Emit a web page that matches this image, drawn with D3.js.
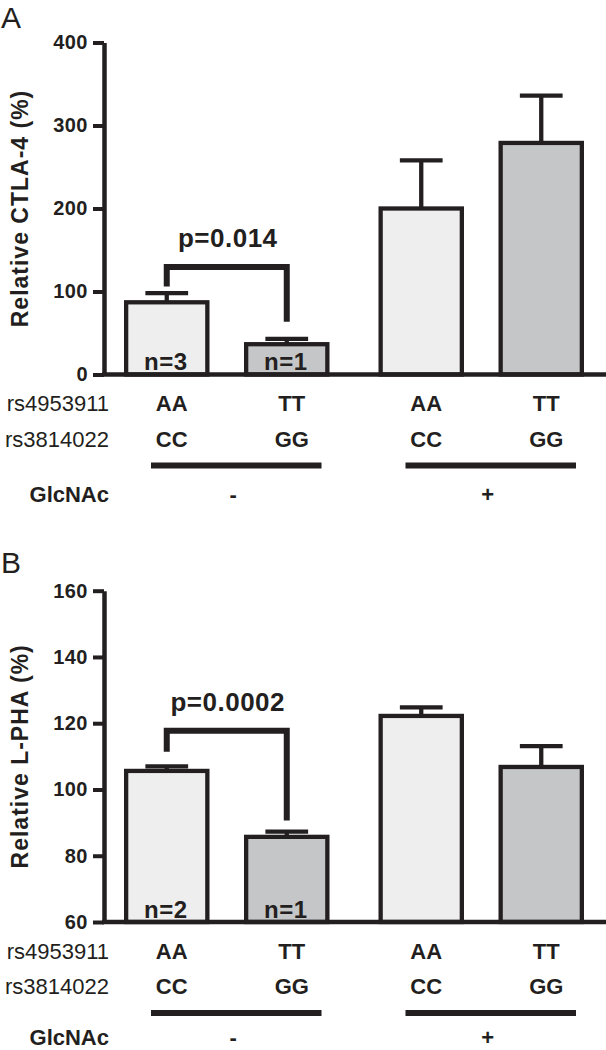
<!DOCTYPE html>
<html>
<head>
<meta charset="utf-8">
<script src="https://cdn.jsdelivr.net/npm/d3@7"></script>
<style>
  html, body { margin: 0; padding: 0; background: #ffffff; }
  svg { display: block; font-family: "Liberation Sans", Arial, Helvetica, sans-serif; }
</style>
</head>
<body>
<script>
// ---------------- DATA ----------------
const conditions = ["-", "-", "+", "+"];          // GlcNAc
const rs4953911 = ["AA", "TT", "AA", "TT"];
const rs3814022 = ["CC", "GG", "CC", "GG"];
const groupNames = ["-", "+"];
const genotypeKeys = ["AA", "TT"];

// Panel A: Relative CTLA-4 (%)
const ctlaMeans = [87, 36.5, 200, 279];
const ctlaErrors = [11, 6.5, 58, 57];
const ctlaTicks = [0, 100, 200, 300, 400];
const ctlaN = ["n=3", "n=1"];
const ctlaP = "p=0.014";
const ctlaBracket = [106, 129.5, 63.5];   // left foot, top, right foot (data units)

// Panel B: Relative L-PHA (%)
const lphaMeans = [105.6, 85.7, 122.2, 106.8];
const lphaErrors = [1.4, 1.6, 2.6, 6.3];
const lphaTicks = [60, 80, 100, 120, 140, 160];
const lphaN = ["n=2", "n=1"];
const lphaP = "p=0.0002";
const lphaBracket = [111.4, 117.7, 90.6];

const rowLabels = ["rs4953911", "rs3814022"];
const condLabel = "GlcNAc";

// ---------------- STYLE ----------------
const W = 606, H = 1050;
const INK = "#231f20";
const fills = ["#eeeeee", "#c5c6c8", "#eeeeee", "#c5c6c8"];
const SW = 4.3;

const svg = d3.select("body").append("svg").attr("width", W).attr("height", H);

// x scales shared by both panels
const xOuter = d3.scaleBand().domain(groupNames).range([124, 584]).paddingInner(0.1925);
const xInner = d3.scaleBand().domain(genotypeKeys).range([0, xOuter.bandwidth()]).paddingInner(0.2875);
const barLeft = i => xOuter(conditions[i]) + xInner(rs4953911[i]);
const barCenter = i => barLeft(i) + xInner.bandwidth() / 2;
const xTable = d3.scaleBand().domain(groupNames).range([151, 576]).paddingInner(0.33);

function drawPanel(cfg) {
  const g = svg.append("g");
  const y = d3.scaleLinear().domain(cfg.domain).range(cfg.yRange);
  const y0 = y(cfg.domain[0]);
  const idx = d3.range(cfg.means.length);

  // panel letter
  g.append("text").attr("x", 1).attr("y", cfg.letterY)
    .attr("font-size", 30).attr("fill", INK).text(cfg.letter);

  // bars
  g.selectAll("rect.bar").data(idx).join("rect").attr("class", "bar")
    .attr("x", i => barLeft(i) + SW / 2)
    .attr("width", xInner.bandwidth() - SW)
    .attr("y", i => y(cfg.means[i]))
    .attr("height", i => y0 - y(cfg.means[i]))
    .attr("fill", i => fills[i])
    .attr("stroke", INK).attr("stroke-width", SW);

  // error bars
  g.selectAll("line.ev").data(idx).join("line").attr("class", "ev")
    .attr("x1", barCenter).attr("x2", barCenter)
    .attr("y1", i => y(cfg.means[i]))
    .attr("y2", i => y(cfg.means[i] + cfg.errors[i]))
    .attr("stroke", INK).attr("stroke-width", SW);
  g.selectAll("line.ec").data(idx).join("line").attr("class", "ec")
    .attr("x1", i => barCenter(i) - xInner.bandwidth() / 4)
    .attr("x2", i => barCenter(i) + xInner.bandwidth() / 4)
    .attr("y1", i => y(cfg.means[i] + cfg.errors[i]))
    .attr("y2", i => y(cfg.means[i] + cfg.errors[i]))
    .attr("stroke", INK).attr("stroke-width", SW);

  // y axis
  const axis = d3.axisLeft(y).tickValues(cfg.ticks).tickSize(11).tickSizeOuter(0).tickPadding(5);
  const ag = g.append("g").attr("transform", "translate(104,0)").call(axis);
  ag.select(".domain").attr("stroke", INK).attr("stroke-width", 4.5);
  ag.selectAll(".tick line").attr("stroke", INK).attr("stroke-width", 4);
  ag.selectAll(".tick text").attr("fill", INK).attr("font-size", 20).attr("font-weight", "bold")
    .attr("letter-spacing", 0.5).attr("font-family", "Liberation Sans, Arial, sans-serif");

  // x baseline
  g.append("line").attr("x1", 102).attr("x2", W).attr("y1", y0).attr("y2", y0)
    .attr("stroke", INK).attr("stroke-width", 4.5);

  // y label
  const yc = (cfg.yRange[0] + cfg.yRange[1]) / 2;
  g.append("text").attr("transform", `translate(28,${yc}) rotate(-90)`)
    .attr("text-anchor", "middle").attr("font-size", 23).attr("font-weight", "bold")
    .attr("letter-spacing", 1).attr("fill", INK).text(cfg.yLabel);

  // n labels inside first two bars
  g.selectAll("text.n").data(cfg.nLabels).join("text").attr("class", "n")
    .attr("x", (d, i) => barCenter(i) - 1).attr("y", y0 - 4.5)
    .attr("text-anchor", "middle").attr("font-size", 24).attr("font-weight", "bold")
    .attr("letter-spacing", 0.5).attr("fill", INK).text(d => d);

  // significance bracket
  const [lf, top, rf] = cfg.bracket;
  const bx1 = barCenter(0), bx2 = barCenter(1);
  g.append("path")
    .attr("d", d3.line()([[bx1, y(lf)], [bx1, y(top)], [bx2, y(top)], [bx2, y(rf)]]))
    .attr("fill", "none").attr("stroke", INK).attr("stroke-width", 6).attr("stroke-linejoin", "miter");
  g.append("text").attr("x", (bx1 + bx2) / 2 + 1).attr("y", y(top) - 20)
    .attr("text-anchor", "middle").attr("font-size", 26).attr("font-weight", "bold")
    .attr("letter-spacing", 0.5).attr("fill", INK).text(cfg.pText);

  // table under axis
  const rows = [rs4953911, rs3814022];
  const rowY = [y0 + 36.5, y0 + 72];
  rows.forEach((r, k) => {
    g.append("text").attr("x", 109).attr("y", rowY[k]).attr("text-anchor", "end")
      .attr("font-size", 22).attr("fill", INK).text(rowLabels[k]);
    g.selectAll("text.row" + k).data(r).join("text").attr("class", "row" + k)
      .attr("x", (d, i) => barCenter(i) + 5).attr("y", rowY[k])
      .attr("text-anchor", "middle").attr("font-size", 22).attr("font-weight", "bold")
      .attr("fill", INK).text(d => d);
  });
  g.selectAll("line.grp").data(groupNames).join("line").attr("class", "grp")
    .attr("x1", d => xTable(d)).attr("x2", d => xTable(d) + xTable.bandwidth())
    .attr("y1", y0 + 91).attr("y2", y0 + 91)
    .attr("stroke", INK).attr("stroke-width", 6);
  g.append("text").attr("x", 109).attr("y", y0 + cfg.condOffset).attr("text-anchor", "end")
    .attr("font-size", 22).attr("font-weight", "bold").attr("fill", INK).text(condLabel);
  g.selectAll("text.sign").data(groupNames).join("text").attr("class", "sign")
    .attr("x", d => xTable(d) + xTable.bandwidth() / 2 - 3).attr("y", y0 + cfg.condOffset)
    .attr("text-anchor", "middle").attr("font-size", 22).attr("font-weight", "bold")
    .attr("fill", INK).text(d => d);
}

drawPanel({
  letter: "A", letterY: 28, condOffset: 127,
  domain: [0, 400], yRange: [374.5, 42.5], ticks: ctlaTicks,
  means: ctlaMeans, errors: ctlaErrors, nLabels: ctlaN,
  pText: ctlaP, bracket: ctlaBracket, yLabel: "Relative CTLA-4 (%)"
});
drawPanel({
  letter: "B", letterY: 573, condOffset: 123,
  domain: [60, 160], yRange: [922, 590.7], ticks: lphaTicks,
  means: lphaMeans, errors: lphaErrors, nLabels: lphaN,
  pText: lphaP, bracket: lphaBracket, yLabel: "Relative L-PHA (%)"
});
</script>
</body>
</html>
